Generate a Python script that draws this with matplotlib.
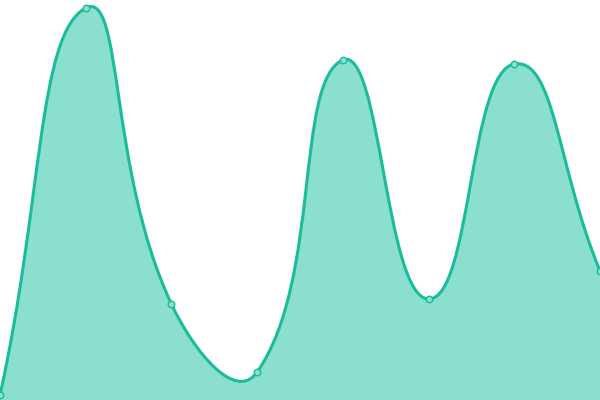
import numpy as np
import matplotlib.pyplot as plt
from matplotlib.path import Path
from matplotlib.patches import PathPatch

categories = ["A", "B", "C", "D", "E", "F", "G", "H"]
values = [5, 392, 96, 28, 340, 101, 336, 129]

LINE = "#1abc9c"
FILL = "#8adfcf"


def smooth_path(xs, ys, smooth=0.5):
    # bezier control points, neighbour-weighted like echarts smooth lines
    pts = np.column_stack([xs, ys]).astype(float)
    n = len(pts)
    cps = []
    for i in range(n):
        prev = pts[max(i - 1, 0)]
        nxt = pts[min(i + 1, n - 1)]
        cur = pts[i]
        v = nxt - prev
        d0 = np.hypot(*(cur - prev))
        d1 = np.hypot(*(cur - nxt))
        s = d0 + d1
        if s:
            d0 /= s
            d1 /= s
        cps.append((cur - v * smooth * d0, cur + v * smooth * d1))
    verts = [pts[0]]
    codes = [Path.MOVETO]
    for i in range(n - 1):
        verts += [cps[i][1], cps[i + 1][0], pts[i + 1]]
        codes += [Path.CURVE4] * 3
    return verts, codes


fig = plt.figure(figsize=(6, 4), dpi=100)
ax = fig.add_axes([0, 0, 1, 1])
ax.set_xlim(0, 600)
ax.set_ylim(0, 400)
ax.axis("off")

xs = np.linspace(0, 600, len(categories))
verts, codes = smooth_path(xs, values)

fill_verts = verts + [(600, 0), (0, 0), verts[0]]
fill_codes = codes + [Path.LINETO, Path.LINETO, Path.CLOSEPOLY]
ax.add_patch(PathPatch(Path(fill_verts, fill_codes), facecolor=FILL,
                       edgecolor="none"))
ax.add_patch(PathPatch(Path(verts, codes), facecolor="none", edgecolor=LINE,
                       linewidth=2.2, capstyle="round", joinstyle="round"))
ax.scatter(xs, values, s=22, facecolor=FILL, edgecolor=LINE, linewidth=1,
           zorder=3, clip_on=False)

fig.savefig("out.png", dpi=100)
